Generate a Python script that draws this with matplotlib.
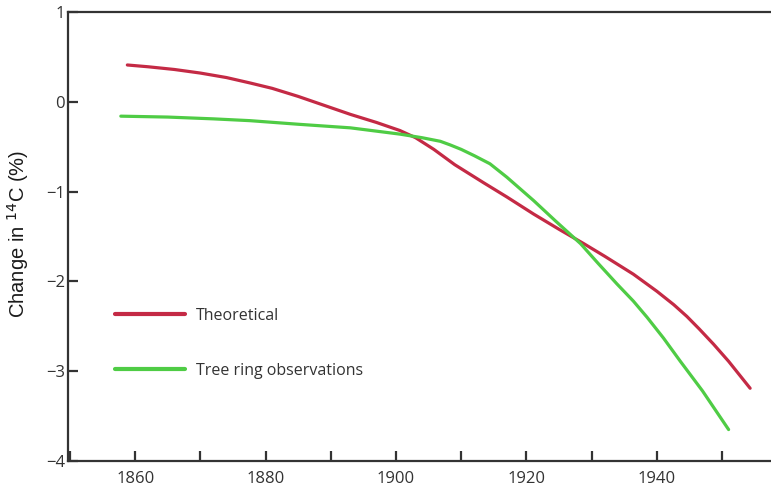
# 14C change: theoretical vs tree ring observations
import numpy as np
import matplotlib
matplotlib.use('Agg')
import matplotlib.pyplot as plt
from matplotlib.ticker import MultipleLocator

# data
years_theory = [1858.8, 1862, 1866, 1870, 1874, 1877.6, 1881, 1885, 1889, 1893,
                1897, 1900.6, 1903, 1905.8, 1909, 1913.4, 1917, 1921.1, 1925,
                1928.8, 1932, 1936.4, 1940, 1942.6, 1944.6, 1946.5, 1948.7,
                1951, 1954.3]
theory = [0.41, 0.39, 0.36, 0.32, 0.27, 0.21, 0.15, 0.06, -0.04, -0.14,
          -0.23, -0.32, -0.40, -0.53, -0.70, -0.90, -1.06, -1.25, -1.42,
          -1.58, -1.72, -1.92, -2.11, -2.26, -2.39, -2.53, -2.70,
          -2.89, -3.19]

years_tree = [1857.8, 1865, 1872, 1877.6, 1885, 1893, 1900.6, 1904, 1906.8,
              1908.3, 1910, 1912, 1914.4, 1917, 1921.1, 1924.5, 1928.3,
              1931, 1933.9, 1936.4, 1938.5, 1941, 1943.6, 1947, 1951.0]
tree = [-0.16, -0.17, -0.19, -0.21, -0.25, -0.29, -0.36, -0.40, -0.44,
        -0.48, -0.53, -0.60, -0.69, -0.84, -1.10, -1.33, -1.58,
        -1.80, -2.03, -2.22, -2.40, -2.63, -2.89, -3.22, -3.65]

red = '#c42a45'
green = '#4fcc45'
dark = '#333333'

fig = plt.figure(figsize=(7.71, 4.9), dpi=100)
ax = fig.add_axes([68/771, 29/490, 1 - 68/771, 449/490])

ax.plot(years_theory, theory, color=red, lw=2.3, label='Theoretical', solid_capstyle='round')
ax.plot(years_tree, tree, color=green, lw=2.3, label='Tree ring observations', solid_capstyle='round')

ax.set_xlim(1849.7, 1957.5)
ax.set_ylim(-4, 1)

ax.xaxis.set_major_locator(MultipleLocator(20))
ax.xaxis.set_minor_locator(MultipleLocator(10))
ax.set_yticks([-4, -3, -2, -1, 0, 1])
ax.set_yticklabels(['\u22124', '\u22123', '\u22122', '\u22121', '0', '1'])
ax.tick_params(which='both', direction='in', length=7, width=1.6, color=dark,
               labelsize=12, labelcolor=dark)
ax.tick_params(axis='x', pad=7)
ax.tick_params(axis='y', pad=2)
for lab in ax.get_xticklabels() + ax.get_yticklabels():
    lab.set_family('Open Sans')

for s in ['left', 'bottom', 'top']:
    ax.spines[s].set_linewidth(1.6)
    ax.spines[s].set_color(dark)
ax.spines['right'].set_visible(False)

ax.set_ylabel('Change in $^{14}$C (%)', fontsize=14.5, family='Liberation Sans',
              color='#1a1a1a')
ax.yaxis.set_label_coords(-0.053, 0.505)

leg = ax.legend(loc='lower left', bbox_to_anchor=(0.046, 0.151), frameon=False,
                handlelength=4.4, labelspacing=2.45, handletextpad=0.7,
                prop={'family': 'Open Sans', 'size': 11.5})
for t in leg.get_texts():
    t.set_color(dark)
for h in leg.get_lines():
    h.set_linewidth(3)

fig.savefig('out.png', dpi=100)
